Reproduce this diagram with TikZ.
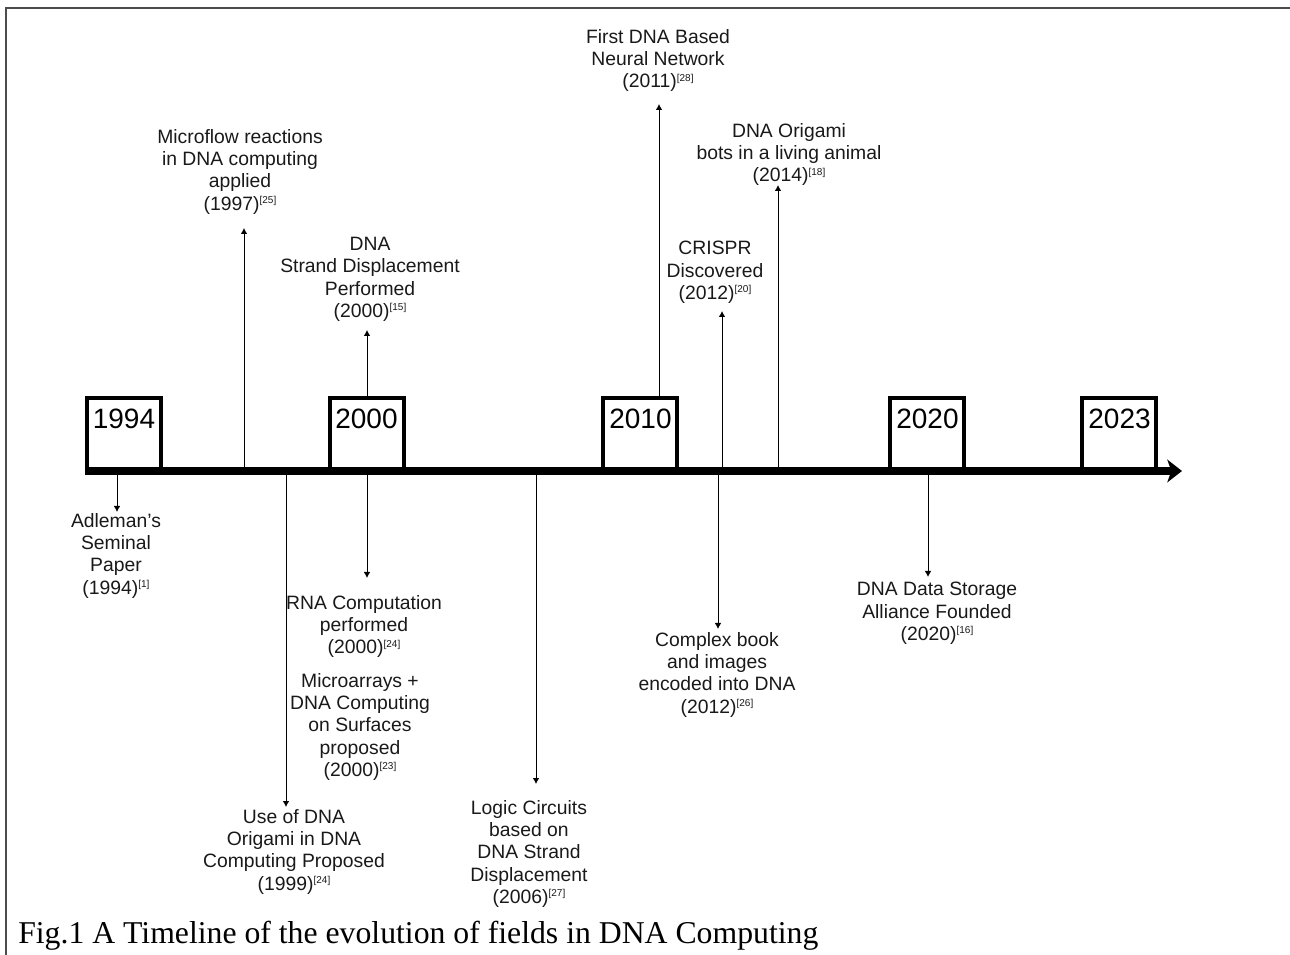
\documentclass[tikz,border=0pt]{standalone}
\usepackage{fontspec}
\setmainfont{Liberation Serif}
\setsansfont{Liberation Sans}
\usetikzlibrary{arrows.meta}
\newcommand\refsup[1]{\raisebox{5pt}{\fontsize{7.5pt}{7.5pt}\selectfont[#1]}}
\begin{document}
\begin{tikzpicture}[x=0.75pt,y=-0.75pt,
  lbl/.style={font=\sffamily\fontsize{14.5pt}{16.7pt}\selectfont, align=center, inner sep=0pt, anchor=north, text=black!90},
  yr/.style={font=\sffamily\fontsize{21pt}{24pt}\selectfont, inner sep=0pt, text=black},
  ybox/.style={draw, fill=white, line width=3pt, minimum width=55.5pt, minimum height=54.75pt, inner sep=0pt},
  evt/.style={line width=0.75pt, -{Latex[length=4.5pt,width=5pt]}},
  frame/.style={line width=1.5pt, black!70}]
\useasboundingbox (0,0) rectangle (1290,955);
% frame
\coordinate (f0) at (6,955);
\coordinate (f1) at (6,8);
\coordinate (f2) at (1290,8);
\draw[frame] (f0) -- (f1) -- (f2);

% timeline coordinates
\coordinate (L0) at (85,471);
\coordinate (L1) at (1182,471);
\coordinate (t94) at (117,471);
\coordinate (t97) at (244,471);
\coordinate (t99) at (286,471);
\coordinate (t00) at (367,471);
\coordinate (t06) at (536,471);
\coordinate (t12u) at (722,471);
\coordinate (t12d) at (718,471);
\coordinate (t14) at (778,471);
\coordinate (t20) at (928,471);

% arrow heads (free ends)
\coordinate (h94) at (117,512);
\coordinate (h97) at (244,228);
\coordinate (h99) at (286,807);
\coordinate (h00u) at (367,330);
\coordinate (h00d) at (367,578);
\coordinate (h06) at (536,784);
\coordinate (h11) at (659,104);
\coordinate (h12u) at (722,311);
\coordinate (h12d) at (718,629);
\coordinate (h14) at (778,185);
\coordinate (h20) at (928,577);

% year boxes
\node[ybox] (b94) at (124,434.5) {};
\node[ybox] (b00) at (366.5,434.5) {};
\node[ybox] (b10) at (640,434.5) {};
\node[ybox] (b20) at (927,434.5) {};
\node[ybox] (b23) at (1119,434.5) {};
\node[yr] (y94) at (124,419) {1994};
\node[yr] (y00) at (366.5,419) {2000};
\node[yr] (y10) at (640.5,419) {2010};
\node[yr] (y20) at (927.5,419) {2020};
\node[yr] (y23) at (1119.5,419) {2023};

% connectors
\draw[evt] (t94) -- (h94);
\draw[evt] (t97) -- (h97);
\draw[evt] (t99) -- (h99);
\draw[evt] (b00.north -| h00u) -- (h00u);
\draw[evt] (t00) -- (h00d);
\draw[evt] (t06) -- (h06);
\draw[evt] (b10.north -| h11) -- (h11);
\draw[evt] (t12u) -- (h12u);
\draw[evt] (t12d) -- (h12d);
\draw[evt] (t14) -- (h14);
\draw[evt] (t20) -- (h20);

% main timeline
\draw[line width=6pt, -{Stealth[length=11pt,width=17pt,inset=3pt]}] (L0) -- (L1);

% labels
\node[lbl] (m97) at (240,129) {Microflow reactions\\in DNA computing\\applied\\(1997)\refsup{25}};
\node[lbl] (sd00) at (370,237) {DNA\\Strand Displacement\\Performed\\(2000)\refsup{15}};
\node[lbl] (nn11) at (658,29) {First DNA Based\\Neural Network\\(2011)\refsup{28}};
\node[lbl] (or14) at (789,123) {DNA Origami\\bots in a living animal\\(2014)\refsup{18}};
\node[lbl] (cr12) at (715,241) {CRISPR\\Discovered\\(2012)\refsup{20}};
\node[lbl] (ad94) at (116,513) {Adleman’s\\Seminal\\Paper\\(1994)\refsup{1}};
\node[lbl] (or99) at (294,809) {Use of DNA\\Origami in DNA\\Computing Proposed\\(1999)\refsup{24}};
\node[lbl] (rna00) at (364,595) {RNA Computation\\performed\\(2000)\refsup{24}};
\node[lbl] (ma00) at (360,673) {Microarrays +\\DNA Computing\\on Surfaces\\proposed\\(2000)\refsup{23}};
\node[lbl] (lc06) at (529,800) {Logic Circuits\\based on\\DNA Strand\\Displacement\\(2006)\refsup{27}};
\node[lbl] (cb12) at (717,632) {Complex book\\and images\\encoded into DNA\\(2012)\refsup{26}};
\node[lbl] (ds20) at (937,582) {DNA Data Storage\\Alliance Founded\\(2020)\refsup{16}};

% caption
\node[anchor=base west, inner sep=0pt, font=\fontsize{23.8pt}{28pt}\selectfont] (cap) at (18,943) {Fig.1 A Timeline of the evolution of fields in DNA Computing};
\end{tikzpicture}
\end{document}
